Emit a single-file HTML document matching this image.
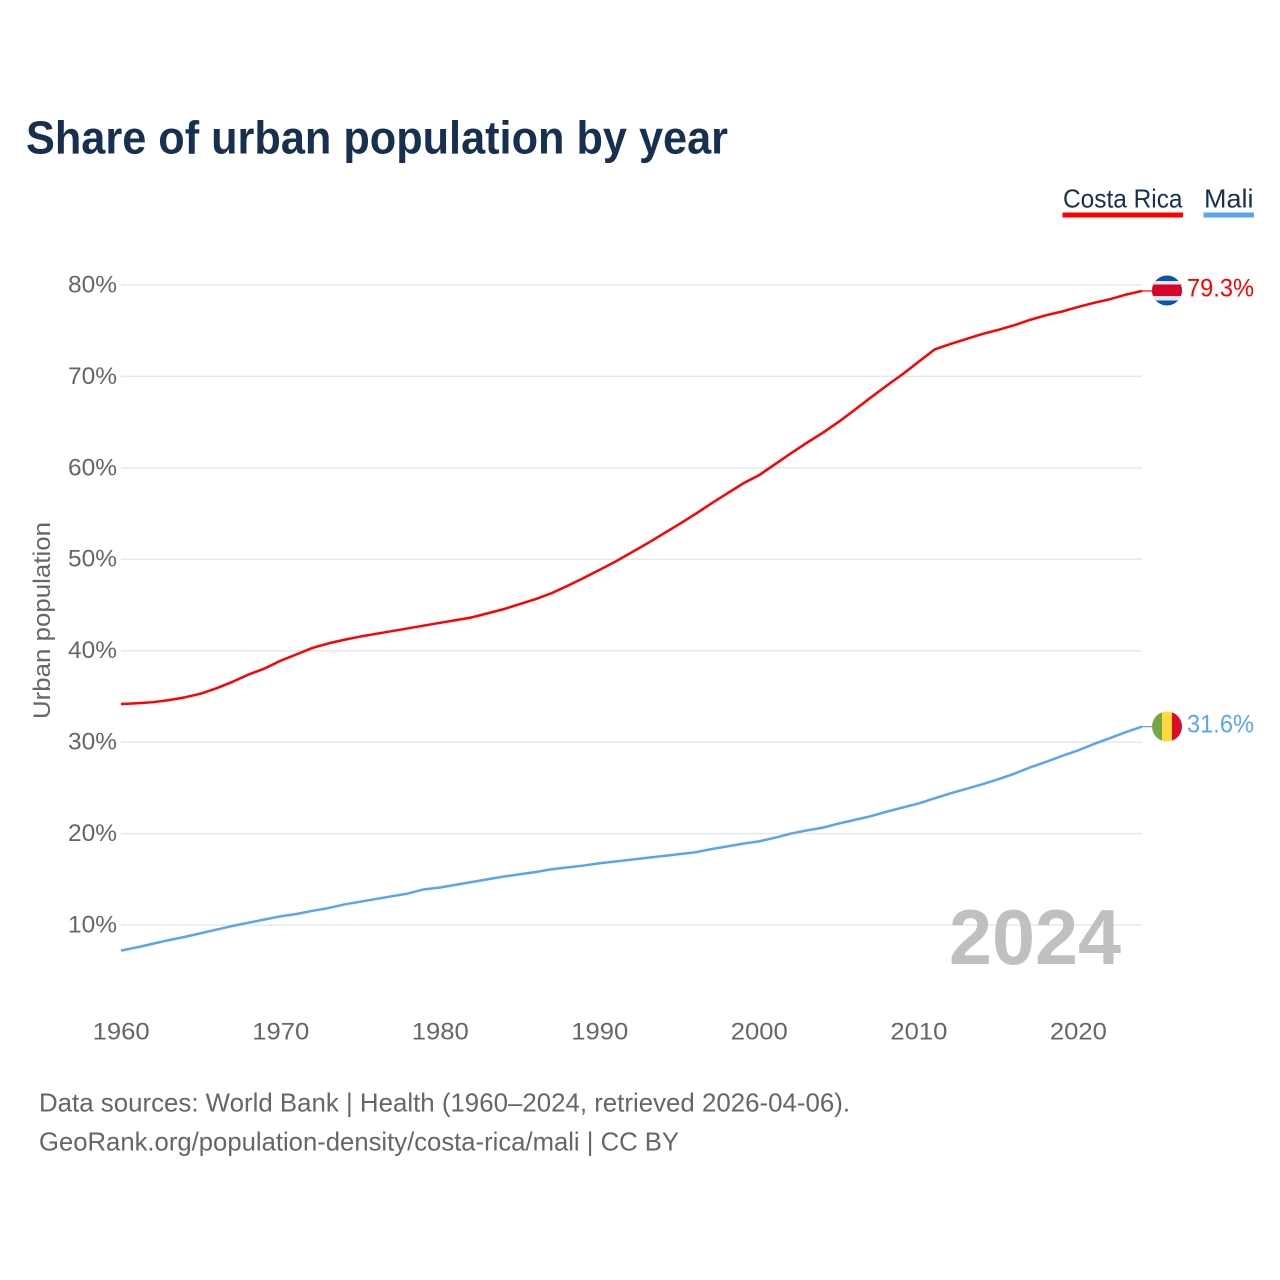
<!DOCTYPE html>
<html lang="en">
<head>
<meta charset="utf-8">
<title>Share of urban population by year</title>
<style>
html,body{margin:0;padding:0;background:#fff;}
svg{display:block;font-family:"Liberation Sans",sans-serif;}
</style>
</head>
<body>
<svg id="chart" xmlns="http://www.w3.org/2000/svg" width="1280" height="1280" viewBox="0 0 1280 1280">
  <rect x="0" y="0" width="1280" height="1280" fill="#ffffff"/>
  <text x="26" y="153.3" font-size="46.5" font-weight="700" fill="#17304f" textLength="702" lengthAdjust="spacingAndGlyphs">Share of urban population by year</text>
  <text x="1063" y="207.3" font-size="26" fill="#17304f" textLength="119.5" lengthAdjust="spacingAndGlyphs">Costa Rica</text>
  <rect x="1062.5" y="212.5" width="120.5" height="5" fill="#ff0000"/>
  <text x="1204" y="207.3" font-size="26" fill="#17304f" textLength="49.5" lengthAdjust="spacingAndGlyphs">Mali</text>
  <rect x="1203.5" y="212.5" width="50.5" height="5" fill="#5ba4ee"/>
  <text transform="translate(50,620.5) rotate(-90)" text-anchor="middle" font-size="24" fill="#666666" textLength="197" lengthAdjust="spacingAndGlyphs">Urban population</text>
  <g id="grid"></g>
  <g id="yticks"></g>
  <g id="xticks"></g>
  <text x="949" y="964" font-size="78" font-weight="700" fill="#c0c0c0" textLength="172" lengthAdjust="spacingAndGlyphs">2024</text>
  <g id="series"></g>
  <defs>
    <clipPath id="flag-clip-cr"><circle id="cr-clip-circle" cx="1167" cy="290.5" r="15"/></clipPath>
    <clipPath id="flag-clip-ml"><circle id="ml-clip-circle" cx="1167" cy="726.5" r="15"/></clipPath>
  </defs>
  <g id="flag-cr" clip-path="url(#flag-clip-cr)">
    <rect x="1152" y="275" width="30" height="31" fill="#0a55b0"/>
    <rect x="1152" y="281" width="30" height="19.5" fill="#e8e8e8"/>
    <rect x="1152" y="284.5" width="30" height="11.5" fill="#d9042b"/>
  </g>
  <g id="flag-ml" clip-path="url(#flag-clip-ml)">
    <rect x="1152" y="711" width="10" height="31" fill="#76a648"/>
    <rect x="1162" y="711" width="10" height="31" fill="#ffd83d"/>
    <rect x="1172" y="711" width="10" height="31" fill="#dc0a2d"/>
  </g>
  <g id="labels"></g>
  <text x="39" y="1111.3" font-size="26" fill="#666666" textLength="811" lengthAdjust="spacingAndGlyphs">Data sources: World Bank | Health (1960–2024, retrieved 2026-04-06).</text>
  <text x="39" y="1150.3" font-size="26" fill="#666666" textLength="640" lengthAdjust="spacingAndGlyphs">GeoRank.org/population-density/costa-rica/mali | CC BY</text>
</svg>
<script>
const firstYear = 1960;
const costaRica = [
  34.17,34.25,34.37,34.6,34.9,35.3,35.9,36.6,37.4,38.05,
  38.9,39.6,40.3,40.8,41.2,41.55,41.85,42.15,42.45,42.75,
  43.05,43.35,43.65,44.1,44.55,45.1,45.65,46.3,47.1,47.95,
  48.85,49.75,50.75,51.75,52.8,53.85,54.95,56.1,57.2,58.3,
  59.2,60.4,61.6,62.75,63.85,65.05,66.35,67.7,69,70.25,
  71.6,72.95,73.55,74.1,74.65,75.1,75.6,76.2,76.7,77.1,
  77.6,78.05,78.45,78.95,79.35
];
const mali = [
  7.2,7.55,7.95,8.35,8.7,9.1,9.5,9.9,10.25,10.6,
  10.95,11.2,11.55,11.85,12.25,12.55,12.85,13.15,13.45,13.9,
  14.1,14.4,14.7,15,15.3,15.55,15.8,16.1,16.3,16.5,
  16.75,16.95,17.15,17.35,17.55,17.75,17.95,18.3,18.6,18.9,
  19.15,19.55,20,20.35,20.65,21.1,21.5,21.9,22.4,22.85,
  23.3,23.85,24.4,24.9,25.4,25.95,26.55,27.25,27.85,28.5,
  29.1,29.8,30.45,31.1,31.7
];
const yTickValues = [10,20,30,40,50,60,70,80];
const yTickLabels = ["10%","20%","30%","40%","50%","60%","70%","80%"];
const xTickValues = [1960,1970,1980,1990,2000,2010,2020];
const xTickLabels = ["1960","1970","1980","1990","2000","2010","2020"];
const endLabels = ["79.3%","31.6%"];

const NS = "http://www.w3.org/2000/svg";
const plotLeft = 121, plotRight = 1142;
function xScale(year){ return 121 + (year - 1960) * (1021 / 64); }
function yScale(v){ return 925 - (v - 10) * (640 / 70); }

const grid = document.getElementById("grid");
const yticks = document.getElementById("yticks");
yTickValues.forEach(function(v, i){
  const line = document.createElementNS(NS, "line");
  
  
  line.setAttribute("x1", plotLeft);
  line.setAttribute("x2", plotRight);
  line.setAttribute("y1", yScale(v));
  line.setAttribute("y2", yScale(v));
  line.setAttribute("stroke", "#e8e8e8");
  line.setAttribute("stroke-width", "1.5");
  grid.appendChild(line);

  const t = document.createElementNS(NS, "text");
  
  
  t.setAttribute("x", 68);
  t.setAttribute("y", yScale(v) + 7.4);
  t.setAttribute("font-size", "24");
  t.setAttribute("fill", "#666666");
  t.setAttribute("textLength", "49");
  t.setAttribute("lengthAdjust", "spacingAndGlyphs");
  t.textContent = yTickLabels[i];
  yticks.appendChild(t);
});

const xticks = document.getElementById("xticks");
xTickValues.forEach(function(v, i){
  const t = document.createElementNS(NS, "text");
  
  
  t.setAttribute("x", xScale(v) - 28.3);
  t.setAttribute("y", 1039.3);
  t.setAttribute("font-size", "24");
  t.setAttribute("fill", "#666666");
  t.setAttribute("textLength", "57");
  t.setAttribute("lengthAdjust", "spacingAndGlyphs");
  t.textContent = xTickLabels[i];
  xticks.appendChild(t);
});

const seriesGroup = document.getElementById("series");
function pathFor(values){
  return values.map(function(v, i){
    return (i ? "L" : "M") + xScale(firstYear + i).toFixed(2) + " " + yScale(v).toFixed(2);
  }).join(" ");
}

const redLine = document.createElementNS(NS, "path");


redLine.setAttribute("d", pathFor(costaRica));
redLine.setAttribute("fill", "none");
redLine.setAttribute("stroke", "#ff0000");
redLine.setAttribute("stroke-width", "2.5");
redLine.setAttribute("stroke-linejoin", "round");
seriesGroup.appendChild(redLine);

const blueLine = document.createElementNS(NS, "path");


blueLine.setAttribute("d", pathFor(mali));
blueLine.setAttribute("fill", "none");
blueLine.setAttribute("stroke", "#5ba4ee");
blueLine.setAttribute("stroke-width", "2.5");
blueLine.setAttribute("stroke-linejoin", "round");
seriesGroup.appendChild(blueLine);

const lastRed = costaRica[costaRica.length - 1];
const lastBlue = mali[mali.length - 1];
const lastX = xScale(firstYear + costaRica.length - 1);

const redStub = document.createElementNS(NS, "line");


redStub.setAttribute("x1", lastX);
redStub.setAttribute("x2", lastX + 10);
redStub.setAttribute("y1", yScale(lastRed));
redStub.setAttribute("y2", yScale(lastRed));
redStub.setAttribute("stroke", "#ff0000");
redStub.setAttribute("stroke-width", "1.2");
seriesGroup.appendChild(redStub);

const blueStub = document.createElementNS(NS, "line");


blueStub.setAttribute("x1", lastX);
blueStub.setAttribute("x2", lastX + 10);
blueStub.setAttribute("y1", yScale(lastBlue));
blueStub.setAttribute("y2", yScale(lastBlue));
blueStub.setAttribute("stroke", "#5ba4ee");
blueStub.setAttribute("stroke-width", "1.2");
seriesGroup.appendChild(blueStub);

const labelsGroup = document.getElementById("labels");

const redLabel = document.createElementNS(NS, "text");


redLabel.setAttribute("x", 1187);
redLabel.setAttribute("y", yScale(lastRed) + 5.5);
redLabel.setAttribute("font-size", "25");
redLabel.setAttribute("fill", "#ff0000");
redLabel.setAttribute("textLength", "67");
redLabel.setAttribute("lengthAdjust", "spacingAndGlyphs");
redLabel.textContent = endLabels[0];
labelsGroup.appendChild(redLabel);

const blueLabel = document.createElementNS(NS, "text");


blueLabel.setAttribute("x", 1187);
blueLabel.setAttribute("y", yScale(lastBlue) + 6);
blueLabel.setAttribute("font-size", "25");
blueLabel.setAttribute("fill", "#5ba4ee");
blueLabel.setAttribute("textLength", "67");
blueLabel.setAttribute("lengthAdjust", "spacingAndGlyphs");
blueLabel.textContent = endLabels[1];
labelsGroup.appendChild(blueLabel);
</script>
</body>
</html>
